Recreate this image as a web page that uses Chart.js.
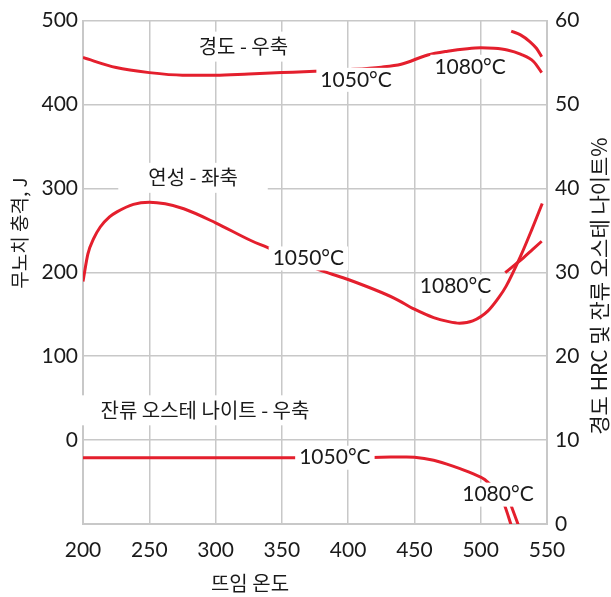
<!DOCTYPE html>
<html>
<head>
<meta charset="utf-8">
<script src="https://cdn.jsdelivr.net/npm/chart.js@4.4.0/dist/chart.umd.min.js"></script>
<style>
  html, body { margin: 0; padding: 0; background: #fff; }
</style>
</head>
<body>
<canvas id="chart" width="611" height="597"></canvas>
<script>
// tick labels
var tempTicks = [200, 250, 300, 350, 400, 450, 500, 550];
var impactTicks = [0, 100, 200, 300, 400, 500];
var rightTicks = [0, 10, 20, 30, 40, 50, 60];

// hardness, HRC (right axis)
var hard1050X = [200, 225, 250, 275, 300, 325, 350, 375, 400, 425, 440, 460, 475, 490, 500, 510, 520, 530, 540, 546];
var hard1050Y = [55.6, 54.4, 53.8, 53.5, 53.5, 53.65, 53.8, 53.95, 54.15, 54.45, 54.8, 55.9, 56.35, 56.65, 56.75, 56.7, 56.5, 56.0, 55.1, 53.8];
var hard1080X = [523, 530, 537, 542, 546];
var hard1080Y = [58.75, 58.3, 57.5, 56.7, 55.7];

// impact toughness, J (left axis)
var tough1050X = [200, 203.7, 208, 213, 220, 225.6, 238, 250, 262, 276, 300, 327, 339, 360, 381.5, 400, 435, 450, 464.5, 475, 484, 494, 505.5, 513.7, 519.2, 530, 538.3, 546.4];
var tough1050Y = [189, 222, 240, 254, 266, 272, 281, 283.5, 281.6, 275.7, 259, 237.6, 229.8, 215, 201, 191.4, 169, 156, 146, 141.5, 139.4, 142, 154, 170, 183.5, 219, 250, 282];
var tough1080X = [518.5, 525, 532, 539, 546];
var tough1080Y = [199.5, 208, 217, 227, 237];

// retained austenite, % (right axis)
var ra1050X = [200, 250, 300, 350, 400, 425, 444, 450, 464.5, 479, 494, 503, 510, 515, 517.8, 523.5];
var ra1050Y = [7.9, 7.9, 7.9, 7.9, 7.9, 7.95, 8.0, 7.97, 7.6, 6.9, 6.0, 5.3, 4.2, 3.1, 2.3, -0.4];
var ra1080X = [519, 522.7, 529];
var ra1080Y = [3.8, 2.3, -0.4];

// text notes placed on the plot
var noteText = ['경도 - 우축', '1050°C', '1080°C', '연성 - 좌축', '1050°C', '1080°C', '잔류 오스테 나이트 - 우축', '1050°C', '1080°C'];
var noteX = [321, 406, 492, 283, 370, 481, 292, 390, 513];
var noteY = [469, 429.4, 445, 312.6, 216.5, 183, 35.5, 7.9, 3.5];
var noteAxis = ['y', 'y', 'y', 'y', 'y', 'y', 'y', 'y2', 'y2'];

var red = '#e41f2d';
var gridCol = '#c8c8c8';
var ink = '#1a1a1a';
var numFont = 'Lato, "Noto Sans CJK KR", sans-serif';
var korFont = '"Noto Sans CJK KR", sans-serif';

function pts(xs, ys) {
  return xs.map(function (x, i) { return { x: x, y: ys[i] }; });
}

function line(xs, ys, axis) {
  return {
    data: pts(xs, ys),
    yAxisID: axis,
    borderColor: red,
    borderWidth: 3,
    pointRadius: 0,
    fill: false,
    cubicInterpolationMode: 'monotone'
  };
}

function vText(ctx, t, x, y) {
  ctx.save();
  ctx.translate(x, y);
  ctx.rotate(-Math.PI / 2);
  ctx.fillText(t, 0, 0);
  ctx.restore();
}

var notesPlugin = {
  id: 'notes',
  afterDatasetsDraw: function (chart) {
    var ctx = chart.ctx;
    var xs = chart.scales.x;
    ctx.save();
    ctx.textAlign = 'center';
    ctx.textBaseline = 'middle';
    noteText.forEach(function (t, i) {
      var isNum = /^\d/.test(t);
      ctx.font = isNum ? '21px ' + numFont : '20px ' + korFont;
      var px = xs.getPixelForValue(noteX[i]);
      var py = chart.scales[noteAxis[i]].getPixelForValue(noteY[i]);
      var w = ctx.measureText(t).width;
      var padX = isNum ? 4 : 30, halfH = isNum ? 12 : 15;
      ctx.fillStyle = '#fff';
      ctx.fillRect(px - w / 2 - padX, py - halfH, w + padX * 2, halfH * 2);
      ctx.fillStyle = ink;
      ctx.fillText(t, px, py);
    });
    // axis titles
    ctx.font = '20px ' + korFont;
    ctx.fillText('뜨임 온도', 250, 583);
    ctx.font = '19px ' + korFont;
    vText(ctx, '무노치 충격, J', 20, 233);
    ctx.font = '21px ' + korFont;
    vText(ctx, '경도 HRC 및 잔류 오스테 나이트%', 599, 286);
    ctx.restore();
  }
};

new Chart(document.getElementById('chart'), {
  type: 'line',
  data: {
    datasets: [
      line(hard1050X, hard1050Y, 'y2'),
      line(hard1080X, hard1080Y, 'y2'),
      line(tough1050X, tough1050Y, 'y'),
      line(tough1080X, tough1080Y, 'y'),
      line(ra1050X, ra1050Y, 'y2'),
      line(ra1080X, ra1080Y, 'y2')
    ]
  },
  options: {
    responsive: false,
    animation: false,
    layout: { padding: { top: 19, left: 0, right: 0, bottom: 0 } },
    plugins: { legend: { display: false }, tooltip: { enabled: false } },
    scales: {
      x: {
        type: 'linear',
        min: tempTicks[0],
        max: tempTicks[tempTicks.length - 1],
        afterBuildTicks: function (s) { s.ticks = tempTicks.map(function (v) { return { value: v }; }); },
        ticks: { font: { family: numFont, size: 21 }, color: ink, padding: 14, maxRotation: 0 },
        grid: { color: gridCol, lineWidth: 1.5, drawTicks: false },
        border: { color: gridCol, width: 2 },
        afterFit: function (s) { s.height = 73; }
      },
      y: {
        position: 'left',
        min: -100,
        max: 500,
        afterBuildTicks: function (s) {
          s.ticks = [-100].concat(impactTicks).map(function (v) { return { value: v }; });
        },
        ticks: {
          font: { family: numFont, size: 21 }, color: ink, padding: 5,
          callback: function (v) { return v < 0 ? '' : v; }
        },
        grid: { color: gridCol, lineWidth: 1.5, drawTicks: false },
        border: { color: gridCol, width: 2 },
        afterFit: function (s) { s.width = 83; }
      },
      y2: {
        position: 'right',
        min: rightTicks[0],
        max: rightTicks[rightTicks.length - 1],
        afterBuildTicks: function (s) { s.ticks = rightTicks.map(function (v) { return { value: v }; }); },
        ticks: { font: { family: numFont, size: 21 }, color: ink, padding: 8 },
        grid: { display: false, drawTicks: false },
        border: { color: gridCol, width: 2 },
        afterFit: function (s) { s.width = 64; }
      }
    }
  },
  plugins: [notesPlugin]
});
</script>
</body>
</html>
